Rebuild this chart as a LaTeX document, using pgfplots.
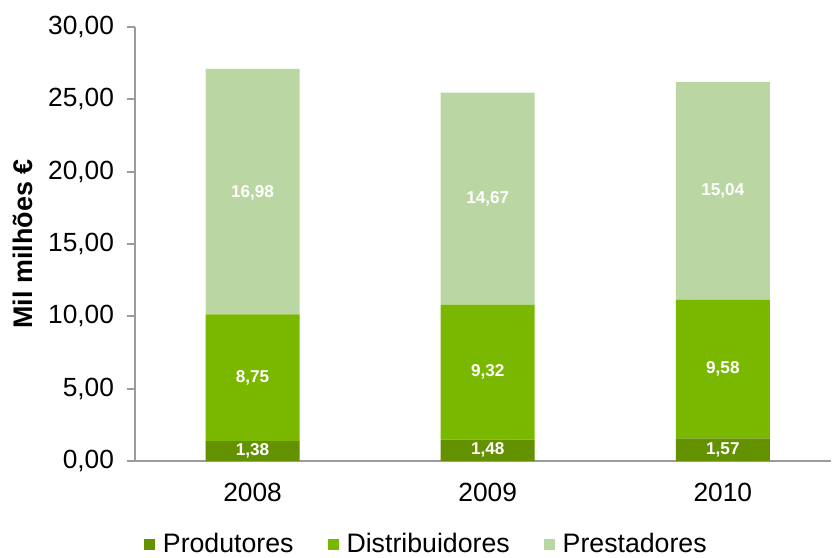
\documentclass[border=0pt]{standalone}
\usepackage{pgfplots}
\pgfplotsset{compat=1.18}
\usepackage{fontspec}
\setmainfont{Liberation Sans}

\definecolor{prod}{RGB}{99,145,0}
\definecolor{dist}{RGB}{122,184,0}
\definecolor{prest}{RGB}{185,214,163}
\definecolor{axgray}{RGB}{155,155,155}

% 1 px of the layout = 0.5bp
\begin{document}
\begin{tikzpicture}[x=0.5bp,y=0.5bp]
\useasboundingbox (-135,-97) rectangle (698,461);
\pgfplotsset{
  base/.style={
    scale only axis,
    width=348bp, height=217bp,
    at={(0,0)}, anchor=south west,
    xmin=-0.5, xmax=2.46,
    ymin=0, ymax=30,
    clip=false,
  }
}
\begin{axis}[
  base,
  ybar stacked,
  bar width=47bp,
  axis x line*=bottom,
  axis y line*=left,
  axis line style={axgray, line width=1bp},
  xtick={0,1,2},
  xticklabels={2008,2009,2010},
  minor xtick={0.5,1.5},
  x tick style={draw=none},
  minor x tick style={axgray, line width=1bp},
  minor tick length=4bp,
  ytick={0,5,...,30},
  y tick style={axgray, line width=1bp},
  major tick length=4bp,
  tick align=outside,
  tick label style={font=\fontsize{13.2}{15}\selectfont, text=black},
  x tick label style={yshift=-3.5bp},
  yticklabel style={xshift=-3bp, /pgf/number format/.cd, fixed, fixed zerofill, precision=2, use comma, assume math mode=true},
  ylabel={\textbf{Mil milhões €}},
  ylabel style={font=\fontsize{13.5}{15}\selectfont, yshift=1bp},
  legend style={
    at={(0.42,-0.193)}, anchor=center,
    draw=none, fill=none,
    legend columns=3,
    font=\fontsize{13.4}{15}\selectfont,
    /tikz/every odd column/.append style={column sep=2bp},
    /tikz/every even column/.append style={column sep=15bp},
  },
  legend image code/.code={\fill[#1] (0bp,-2.8bp) rectangle (5.5bp,2.8bp);},
]
\addplot[fill=prod, draw=none] coordinates {(0,1.38) (1,1.48) (2,1.57)};
\addplot[fill=dist, draw=none] coordinates {(0,8.75) (1,9.32) (2,9.58)};
\addplot[fill=prest, draw=none] coordinates {(0,16.98) (1,14.67) (2,15.04)};
\legend{Produtores, Distribuidores, Prestadores}
\end{axis}

% value labels, placed at the middle of each segment
\begin{axis}[
  base,
  hide axis,
]
\addplot[only marks, mark=none,
  nodes near coords,
  point meta=explicit symbolic,
  every node near coord/.style={anchor=center, text=white, font=\bfseries\fontsize{8.6}{10}\selectfont},
] table[meta=lab] {
x y lab
0 0.69 1,38
1 0.74 1,48
2 0.785 1,57
0 5.755 8,75
1 6.14 9,32
2 6.36 9,58
0 18.55 16,98
1 18.135 14,67
2 18.67 15,04
};
\end{axis}
\end{tikzpicture}
\end{document}
